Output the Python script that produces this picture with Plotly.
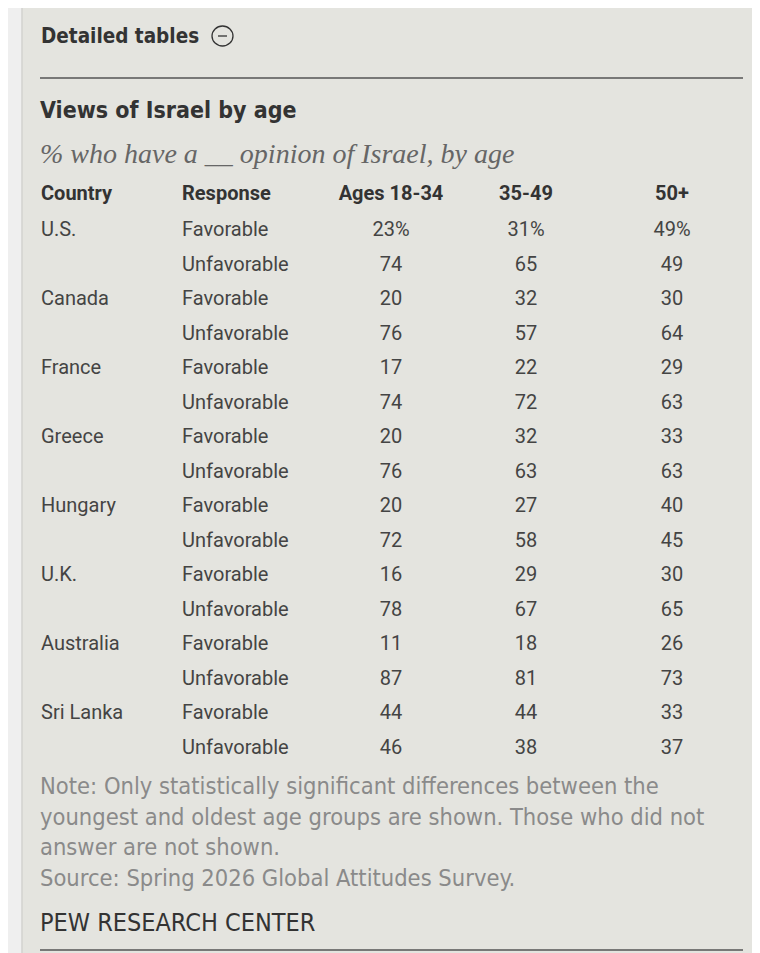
import plotly.graph_objects as go

# Daten aus der Tabelle
countries = ["U.S.", "Canada", "France", "Greece", "Hungary", "U.K.", "Australia", "Sri Lanka"]
responses = ["Favorable", "Unfavorable"]
headers = ["Country", "Response", "Ages 18-34", "35-49", "50+"]

fav_18_34 = [23, 20, 17, 20, 20, 16, 11, 44]
unfav_18_34 = [74, 76, 74, 76, 72, 78, 87, 46]
fav_35_49 = [31, 32, 22, 32, 27, 29, 18, 44]
unfav_35_49 = [65, 57, 72, 63, 58, 67, 81, 38]
fav_50 = [49, 30, 29, 33, 40, 30, 26, 33]
unfav_50 = [49, 64, 63, 63, 45, 65, 73, 37]

title = "Views of Israel by age"
subtitle = "% who have a __ opinion of Israel, by age"
note_lines = [
    "Note: Only statistically significant differences between the",
    "youngest and oldest age groups are shown. Those who did not",
    "answer are not shown.",
    "Source: Spring 2026 Global Attitudes Survey.",
]

# Seite hat 8px Rand, daher Figur etwas kleiner
OFF = 8
W, H = 760 - OFF, 953 - OFF

# Pixel (Bildschirm) -> paper Koordinaten
def px(x):
    return (x - OFF) / W

def py(y):
    return 1 - (y - OFF) / H

# Spalten zusammenbauen (pro Land zwei Zeilen)
def interleave(fav, unfav, first_pct=False):
    out = []
    for i in range(len(fav)):
        f = str(fav[i])
        if first_pct and i == 0:
            f = f + "%"
        out.append(f)
        out.append(str(unfav[i]))
    return out

col_country = []
col_response = []
for c in countries:
    col_country += [c, ""]
    col_response += responses

col_a = interleave(fav_18_34, unfav_18_34, True)
col_b = interleave(fav_35_49, unfav_35_49, True)
col_c = interleave(fav_50, unfav_50, True)

body_font = "Roboto, Liberation Sans, sans-serif"
narrow_font = "Liberation Sans Narrow, DejaVu Sans Condensed, sans-serif"
transparent = "rgba(0,0,0,0)"

fig = go.Figure()

fig.add_trace(go.Table(
    domain=dict(x=[px(33), px(754)], y=[0.05, py(173)]),
    columnwidth=[141, 146, 142, 128, 164],
    header=dict(
        values=["<b>%s</b>" % h for h in headers],
        align=["left", "left", "center", "center", "center"],
        font=dict(family=body_font, size=20, color="#333333"),
        fill_color=transparent,
        line_color=transparent,
        height=30.5,
    ),
    cells=dict(
        values=[col_country, col_response, col_a, col_b, col_c],
        align=["left", "left", "center", "center", "center"],
        font=dict(family=body_font, size=20, color="#444444"),
        fill_color=transparent,
        line_color=transparent,
        height=34.5,
    ),
))

# Panel Hintergrund, Linien und Icon
shapes = [
    dict(type="rect", xref="paper", yref="paper", x0=px(22), x1=px(755), y0=py(960), y1=py(5),
         fillcolor="#e4e4df", line=dict(color="#d2d2d0", width=1.5), layer="below"),
    dict(type="line", xref="paper", yref="paper", x0=px(40), x1=px(743), y0=py(78), y1=py(78),
         line=dict(color="#555555", width=1.5)),
    dict(type="line", xref="paper", yref="paper", x0=px(40), x1=px(743), y0=py(950), y1=py(950),
         line=dict(color="#555555", width=1.5)),
    dict(type="circle", xref="paper", yref="paper", x0=px(212), x1=px(233), y0=py(46), y1=py(26),
         line=dict(color="#333333", width=1.3)),
    dict(type="line", xref="paper", yref="paper", x0=px(218), x1=px(227), y0=py(36), y1=py(36),
         line=dict(color="#333333", width=1.3)),
]

annotations = [
    dict(text="<b>Detailed tables</b>", x=px(39), y=py(36), font=dict(family=narrow_font, size=20.5, color="#333333")),
    dict(text="<b>" + title + "</b>", x=px(38), y=py(110), font=dict(family=narrow_font, size=23, color="#333333")),
    dict(text="<i>" + subtitle + "</i>", x=px(38), y=py(154), font=dict(family="Liberation Serif, serif", size=28, color="#666666")),
    dict(text="<br>".join(note_lines), x=px(38), y=py(832), font=dict(family=narrow_font, size=23.5, color="#8a8a8a")),
    dict(text="PEW RESEARCH CENTER", x=px(38), y=py(922), font=dict(family=narrow_font, size=25, color="#333333")),
]
for a in annotations:
    a.update(xref="paper", yref="paper", xanchor="left", yanchor="middle", showarrow=False, align="left")

fig.update_layout(
    width=W, height=H,
    margin=dict(l=0, r=0, t=0, b=0),
    paper_bgcolor="#efefef",
    plot_bgcolor="#efefef",
    shapes=shapes,
    annotations=annotations,
)

fig.write_html("out.html")
